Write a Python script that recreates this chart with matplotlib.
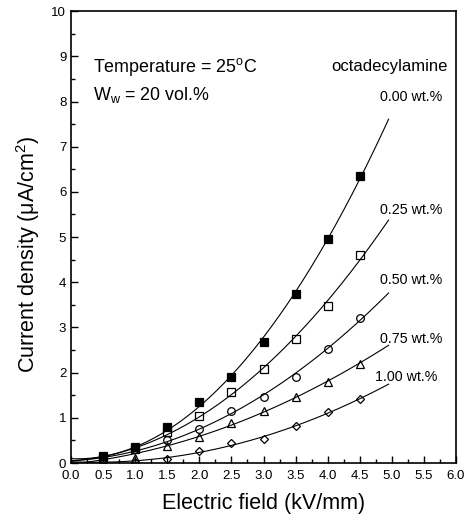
import numpy as np
import matplotlib
matplotlib.use('Agg')
import matplotlib.pyplot as plt
from matplotlib.ticker import MultipleLocator

plt.rcParams['font.family'] = ['Liberation Sans', 'DejaVu Sans']
plt.rcParams['mathtext.fontset'] = 'custom'
plt.rcParams['mathtext.rm'] = 'Liberation Sans'
plt.rcParams['mathtext.it'] = 'Liberation Sans:italic'

# Data
field = np.array([0.5, 1.0, 1.5, 2.0, 2.5, 3.0, 3.5, 4.0, 4.5])
j_000 = np.array([0.16, 0.36, 0.80, 1.35, 1.91, 2.67, 3.74, 4.95, 6.35])
j_025 = np.array([0.12, 0.32, 0.68, 1.05, 1.58, 2.07, 2.74, 3.48, 4.60])
j_050 = np.array([0.08, 0.30, 0.51, 0.75, 1.16, 1.47, 1.90, 2.52, 3.21])
j_075 = np.array([0.05, 0.12, 0.38, 0.58, 0.89, 1.15, 1.47, 1.80, 2.19])
j_100 = np.array([0.02, 0.03, 0.08, 0.27, 0.44, 0.53, 0.83, 1.12, 1.41])

labels = ['0.00 wt.%', '0.25 wt.%', '0.50 wt.%', '0.75 wt.%', '1.00 wt.%']
series = [j_000, j_025, j_050, j_075, j_100]
markers = ['s', 's', 'o', '^', 'D']
fills = ['k', 'none', 'none', 'none', 'none']
msizes = [5.5, 5.5, 5.5, 5.5, 4.5]
label_pos = [(5.3, 8.1), (5.3, 5.6), (5.3, 4.05), (5.3, 2.74), (5.22, 1.9)]

fig = plt.figure(figsize=(4.71, 5.2), dpi=100)
ax = fig.add_axes([0.151, 0.1096, 0.817, 0.869])

xfit = np.linspace(0, 4.95, 200)
for y, m, fc, ms, lab, pos in zip(series, markers, fills, msizes, labels, label_pos):
    # smooth fit through the points, anchored near zero at E = 0
    xs = np.concatenate([[0.0], field])
    ys = np.concatenate([[0.04], y])
    coef = np.polyfit(xs, ys, 2)
    ax.plot(xfit, np.polyval(coef, xfit), color='k', lw=0.8)
    ax.plot(field, y, linestyle='none', marker=m, markersize=ms,
            markerfacecolor=fc, markeredgecolor='k', markeredgewidth=0.9)
    ax.text(pos[0], pos[1], lab, fontsize=10.3, ha='center', va='center')

ax.text(0.34, 8.76, 'Temperature = 25$^{\\mathrm{o}}$C', fontsize=12.9, va='center')
ax.text(0.34, 8.14, 'W$_{\\mathrm{w}}$ = 20 vol.%', fontsize=12.9, va='center')
ax.text(4.97, 8.77, 'octadecylamine', fontsize=12, ha='center', va='center')

ax.set_xlim(0, 6)
ax.set_ylim(0, 10)
ax.xaxis.set_major_locator(MultipleLocator(0.5))
ax.xaxis.set_minor_locator(MultipleLocator(0.25))
ax.yaxis.set_major_locator(MultipleLocator(1))
ax.yaxis.set_minor_locator(MultipleLocator(0.5))
ax.xaxis.set_major_formatter(matplotlib.ticker.FormatStrFormatter('%.1f'))
ax.tick_params(which='both', direction='in', labelsize=9.5)
ax.tick_params(which='major', length=5, width=1)
ax.tick_params(which='minor', length=3, width=1)
ax.tick_params(axis='x', pad=5)
for s in ax.spines.values():
    s.set_linewidth(1.2)

ax.set_xlabel('Electric field (kV/mm)', fontsize=15.5, labelpad=8)
ax.set_ylabel('Current density (μA/cm$^2$)', fontsize=15.5)
ax.yaxis.set_label_coords(-0.076, 0.462)

fig.savefig('out.png', dpi=100)
